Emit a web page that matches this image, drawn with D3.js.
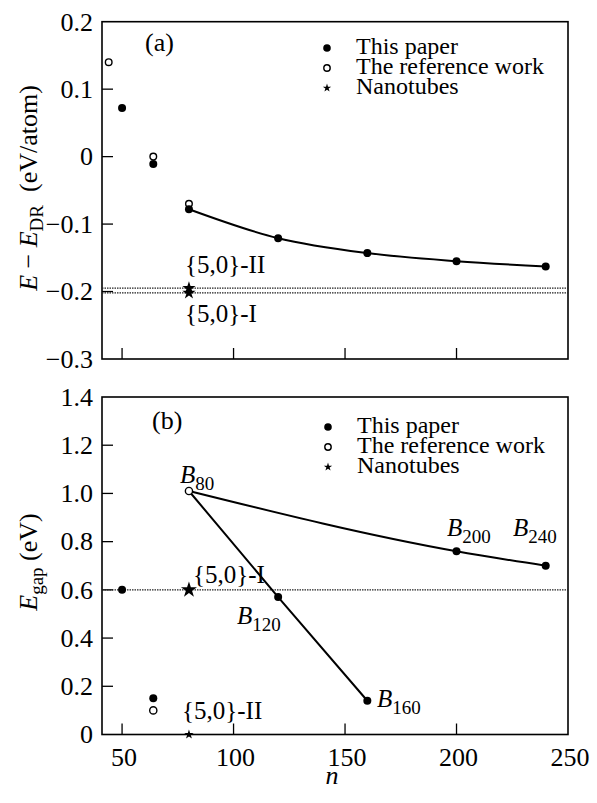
<!DOCTYPE html>
<html><head><meta charset="utf-8">
<script src="https://cdn.jsdelivr.net/npm/d3@7"></script>
<style>
body{margin:0;background:#fff;}
</style></head>
<body><svg id="c" width="597" height="803" font-family="'Liberation Serif', 'Times New Roman', 'DejaVu Serif', serif"></svg>
<script>
// ---------- data, panel (a) ----------
const nThisA = [50, 64, 80, 120, 160, 200, 240];
const eThisA = [0.072, -0.011, -0.078, -0.121, -0.143, -0.155, -0.163];
const nRefA = [44, 64, 80];
const eRefA = [0.14, 0.0, -0.07];
const nTubeA = [80, 80];
const eTubeA = [-0.195, -0.202];
const curveIdxA = [2, 3, 4, 5, 6];           // fitted line through these "this paper" points
const yTicksA = [-0.3, -0.2, -0.1, 0, 0.1, 0.2];
const yTickLabelsA = ["\u22120.3", "\u22120.2", "\u22120.1", "0", "0.1", "0.2"];
// ---------- data, panel (b) ----------
const nThisB = [50, 64, 120, 160, 200, 240];
const gThisB = [0.60, 0.15, 0.57, 0.14, 0.76, 0.70];
const nRefB = [64, 80];
const gRefB = [0.10, 1.01];
const nTubeB = [80, 80];
const gTubeB = [0.60, 0.0];
const branch1N = [80, 120, 160], branch1G = [1.01, 0.57, 0.14];
const branch2N = [80, 200, 240], branch2G = [1.01, 0.76, 0.70];
const yTicksB = [0, 0.2, 0.4, 0.6, 0.8, 1.0, 1.2, 1.4];
const yTickLabelsB = ["0", "0.2", "0.4", "0.6", "0.8", "1.0", "1.2", "1.4"];
const xTicks = [50, 100, 150, 200, 250];
const legendLabels = ["This paper", "The reference work", "Nanotubes"];

const FONT = "'Liberation Serif', 'Times New Roman', 'DejaVu Serif', serif";
const svg = d3.select("#c");
const L = 102, R = 568;
const xA = d3.scaleLinear().domain([41, 250]).range([L, R]);
const yA = d3.scaleLinear().domain([-0.3, 0.2]).range([359, 21.7]);
const xB = d3.scaleLinear().domain([41, 250]).range([L, R]);
const yB = d3.scaleLinear().domain([0, 1.4]).range([734.5, 397]);

function txt(x, y, s, size) {
  return svg.append("text").attr("x", x).attr("y", y).attr("font-family", FONT)
    .attr("font-size", size).attr("fill", "#000").text(s);
}

function frame(x, y, showXLabels, yt, ytl) {
  const g = svg.append("g");
  const [y0, y1] = y.range();
  xTicks.filter(t => t > x.domain()[0] && t < x.domain()[1]).forEach(t => {
    g.append("line").attr("x1", x(t)).attr("x2", x(t)).attr("y1", y0).attr("y2", y0 - 11)
      .attr("stroke", "#000").attr("stroke-width", 1.3);
  });
  yt.forEach((t, i) => {
    const py = y(t);
    if (Math.abs(py - y0) > 1 && Math.abs(py - y1) > 1)
      g.append("line").attr("x1", L).attr("x2", L + 11).attr("y1", py).attr("y2", py)
        .attr("stroke", "#000").attr("stroke-width", 1.3);
    txt(L - 9, py, ytl[i], 26).attr("dy", "0.34em").attr("text-anchor", "end");
  });
  if (showXLabels) {
    xTicks.forEach(t => {
      txt(x(t) + 2, 766, t, 26).attr("text-anchor", "middle");
    });
  }
  g.append("rect").attr("x", L).attr("y", y1).attr("width", R - L).attr("height", y0 - y1)
    .attr("fill", "none").attr("stroke", "#000").attr("stroke-width", 1.6);
}

function dotted(x, y, v) {
  svg.append("line").attr("x1", L).attr("x2", R).attr("y1", y(v)).attr("y2", y(v))
    .attr("stroke", "#222").attr("stroke-width", 1.1).attr("stroke-dasharray", "1.5,1");
}
function filled(cx, cy, r) {
  svg.append("circle").attr("cx", cx).attr("cy", cy).attr("r", r).attr("fill", "#000");
}
function open(cx, cy, r) {
  svg.append("circle").attr("cx", cx).attr("cy", cy).attr("r", r).attr("fill", "#fff")
    .attr("stroke", "#000").attr("stroke-width", 1.4);
}
function star(cx, cy, size) {
  svg.append("path").attr("d", d3.symbol().type(d3.symbolStar).size(size)())
    .attr("transform", `translate(${cx},${cy})`).attr("fill", "#000");
}
function legend(sx, tx, y0) {
  const rows = [y0, y0 + 20, y0 + 40];
  filled(sx, rows[0], 3.8);
  open(sx, rows[1], 3.2);
  star(sx, rows[2], 22);
  legendLabels.forEach((t, i) => {
    txt(tx, rows[i] + 6, t, 24);
  });
}

// ---------- panel (a) ----------
frame(xA, yA, false, yTicksA, yTickLabelsA);
eTubeA.forEach(v => dotted(xA, yA, v));
svg.append("path")
  .attr("d", d3.line().curve(d3.curveMonotoneX).x(i => xA(nThisA[i])).y(i => yA(eThisA[i]))(curveIdxA))
  .attr("fill", "none").attr("stroke", "#000").attr("stroke-width", 2);
nRefA.forEach((n, i) => open(xA(n), yA(eRefA[i]), 3.3));
nThisA.forEach((n, i) => filled(xA(n), yA(eThisA[i]), 4));
nTubeA.forEach((n, i) => star(xA(n), yA(eTubeA[i]), 55));
legend(327, 356, 48);
txt(145, 51, "(a)", 26);
txt(185, 273, "{5,0}-II", 25);
txt(185, 322, "{5,0}-I", 25);
{
  const t = svg.append("text").attr("transform", "translate(37,188) rotate(-90)")
    .attr("text-anchor", "middle").attr("font-family", FONT).attr("font-size", 26);
  t.append("tspan").attr("font-style", "italic").text("E");
  t.append("tspan").text(" \u2212 ");
  t.append("tspan").attr("font-style", "italic").text("E");
  t.append("tspan").attr("font-size", 19).attr("dy", 6).text("DR");
  t.append("tspan").attr("dy", -6).text("\u00a0 (eV/atom)");
}

// ---------- panel (b) ----------
frame(xB, yB, true, yTicksB, yTickLabelsB);
dotted(xB, yB, 0.6);
const lineB = d3.line().x(d => xB(d[0])).y(d => yB(d[1]));
svg.append("path").attr("d", lineB(d3.zip(branch1N, branch1G)))
  .attr("fill", "none").attr("stroke", "#000").attr("stroke-width", 2);
svg.append("path").attr("d", lineB.curve(d3.curveMonotoneX)(d3.zip(branch2N, branch2G)))
  .attr("fill", "none").attr("stroke", "#000").attr("stroke-width", 2);
nThisB.forEach((n, i) => filled(xB(n), yB(gThisB[i]), 4));
nRefB.forEach((n, i) => open(xB(n), yB(gRefB[i]), 3.6));
star(xB(nTubeB[0]), yB(gTubeB[0]), 80);
star(xB(nTubeB[1]), yB(gTubeB[1]), 28);
legend(328, 357, 427);
txt(152, 429, "(b)", 26);
txt(193, 583, "{5,0}-I", 25);
txt(182, 719, "{5,0}-II", 25);
function bLabel(x, y, sub) {
  const t = svg.append("text").attr("x", x).attr("y", y).attr("font-family", FONT).attr("font-size", 25);
  t.append("tspan").attr("font-style", "italic").text("B");
  t.append("tspan").attr("font-size", 19).attr("dy", 7).text(sub);
}
bLabel(180, 483, "80");
bLabel(237, 624, "120");
bLabel(377, 707, "160");
bLabel(447, 536, "200");
bLabel(513, 536, "240");
{
  const t = svg.append("text").attr("transform", "translate(37,562) rotate(-90)")
    .attr("text-anchor", "middle").attr("font-family", FONT).attr("font-size", 26);
  t.append("tspan").attr("font-style", "italic").text("E");
  t.append("tspan").attr("font-size", 19).attr("dy", 6).text("gap");
  t.append("tspan").attr("dy", -6).text(" (eV)");
}
txt(332, 784, "n", 26).attr("text-anchor", "middle").attr("font-style", "italic");
</script></body></html>
